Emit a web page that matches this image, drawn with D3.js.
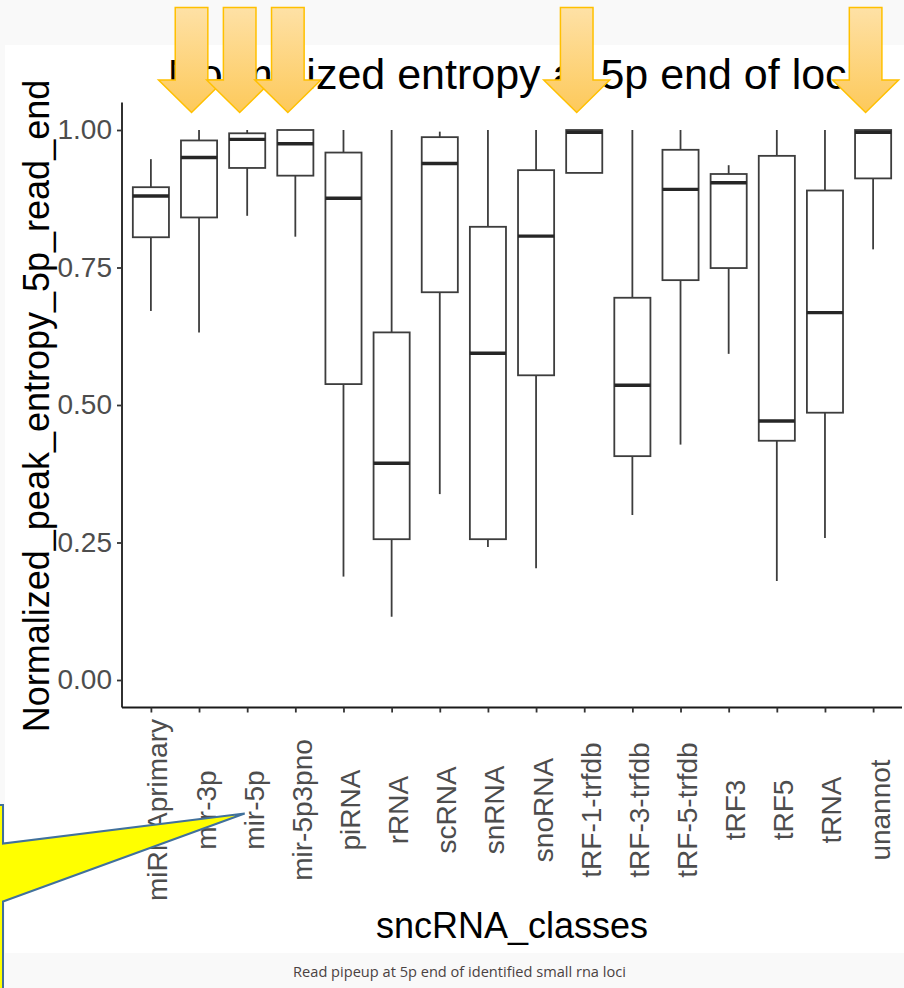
<!DOCTYPE html>
<html>
<head>
<meta charset="utf-8">
<script src="https://d3js.org/d3.v7.min.js"></script>
<style>
  html, body { margin: 0; padding: 0; background: #f9f9f9; }
  svg { display: block; }
</style>
</head>
<body>
<svg id="chart" width="904" height="988"></svg>
<script>
// sncRNA classes and five-number summaries of normalized peak entropy at the 5p read end
const categories = ["miRNAprimary", "mir-3p", "mir-5p", "mir-5p3pno", "piRNA", "rRNA", "scRNA", "snRNA",
  "snoRNA", "tRF-1-trfdb", "tRF-3-trfdb", "tRF-5-trfdb", "tRF3", "tRF5", "tRNA", "unannot"];
const whiskerLow  = [0.671, 0.632, 0.844, 0.806, 0.188, 0.115, 0.338, 0.242, 0.203, 0.922, 0.300, 0.428, 0.593, 0.180, 0.258, 0.783];
const q1          = [0.805, 0.841, 0.931, 0.917, 0.538, 0.256, 0.705, 0.256, 0.554, 0.922, 0.407, 0.727, 0.749, 0.435, 0.486, 0.912];
const median      = [0.880, 0.950, 0.983, 0.975, 0.876, 0.394, 0.939, 0.594, 0.807, 0.996, 0.536, 0.892, 0.904, 0.471, 0.668, 0.996];
const q3          = [0.896, 0.981, 0.994, 1.000, 0.959, 0.632, 0.987, 0.824, 0.927, 1.000, 0.695, 0.964, 0.920, 0.953, 0.890, 1.000];
const whiskerHigh = [0.947, 1.000, 1.000, 1.000, 1.000, 1.000, 0.997, 1.000, 1.000, 1.000, 1.000, 1.000, 0.936, 1.000, 1.000, 1.000];
const yTicks = [0, 0.25, 0.5, 0.75, 1];
const highlighted = ["mir-3p", "mir-5p", "mir-5p3pno", "tRF-1-trfdb", "unannot"];
const calloutTarget = "mir-5p";

const titleText = "Normalized entropy at 5p end of loci";
const xTitle = "sncRNA_classes";
const yTitle = "Normalized_peak_entropy_5p_read_end";
const caption = "Read pipeup at 5p end of identified small rna loci";

const rows = categories.map((c, i) => ({
  cls: c, lo: whiskerLow[i], q1: q1[i], med: median[i], q3: q3[i], hi: whiskerHigh[i]
}));

const W = 904, H = 988;
const panel = { left: 122, right: 902, top: 102.5, bottom: 707.5 };
const font = "'Liberation Sans', Arial, Helvetica, sans-serif";

const svg = d3.select("#chart");

// page / slide backdrop
svg.append("rect").attr("width", W).attr("height", H).attr("fill", "#f9f9f9");
svg.append("rect").attr("x", 5).attr("y", 45).attr("width", W - 5).attr("height", 908).attr("fill", "#ffffff");

const x = d3.scalePoint().domain(categories).range([panel.left, panel.right]).padding(0.6);
const y = d3.scaleLinear().domain([-0.05, 1.05]).range([panel.bottom, panel.top]);
const boxW = x.step() * 0.75;

// title
svg.append("text")
  .attr("x", (panel.left + panel.right) / 2).attr("y", 89)
  .attr("text-anchor", "middle")
  .attr("font-family", font).attr("font-size", 43).attr("fill", "#000")
  .text(titleText);

// boxes
const g = svg.append("g");
const boxes = g.selectAll("g.box").data(rows).join("g").attr("class", "box");
const lineCol = "#3d3d3d";

boxes.append("line")
  .attr("x1", d => x(d.cls)).attr("x2", d => x(d.cls))
  .attr("y1", d => y(d.q3)).attr("y2", d => y(d.hi))
  .attr("stroke", lineCol).attr("stroke-width", 1.8);
boxes.append("line")
  .attr("x1", d => x(d.cls)).attr("x2", d => x(d.cls))
  .attr("y1", d => y(d.q1)).attr("y2", d => y(d.lo))
  .attr("stroke", lineCol).attr("stroke-width", 1.8);
boxes.append("rect")
  .attr("x", d => x(d.cls) - boxW / 2).attr("width", boxW)
  .attr("y", d => y(d.q3)).attr("height", d => y(d.q1) - y(d.q3))
  .attr("fill", "#ffffff").attr("stroke", lineCol).attr("stroke-width", 1.8);
boxes.append("line")
  .attr("x1", d => x(d.cls) - boxW / 2).attr("x2", d => x(d.cls) + boxW / 2)
  .attr("y1", d => y(d.med)).attr("y2", d => y(d.med))
  .attr("stroke", "#262626").attr("stroke-width", 3.4);

// y axis
const yAxis = svg.append("g")
  .attr("transform", `translate(${panel.left},0)`)
  .call(d3.axisLeft(y).tickValues(yTicks).tickFormat(d3.format(".2f")).tickSize(5).tickPadding(5));
yAxis.select(".domain").attr("d", `M0,${panel.top}V${panel.bottom}`).attr("stroke", "#1a1a1a").attr("stroke-width", 1.8);
yAxis.selectAll(".tick line").attr("stroke", "#333").attr("stroke-width", 1.8);
yAxis.selectAll(".tick text").attr("font-family", font).attr("font-size", 28).attr("fill", "#4d4d4d");

// x axis
const xAxis = svg.append("g")
  .attr("transform", `translate(0,${panel.bottom})`)
  .call(d3.axisBottom(x).tickSize(5).tickFormat(""));
xAxis.select(".domain").attr("d", `M${panel.left},0H${panel.right}`).attr("stroke", "#1a1a1a").attr("stroke-width", 1.8);
xAxis.selectAll(".tick line").attr("stroke", "#333").attr("stroke-width", 1.8);

// rotated category labels, centred below the axis
svg.append("g").selectAll("text").data(categories).join("text")
  .attr("transform", d => `translate(${x(d) + 16.5},810) rotate(-90)`)
  .attr("text-anchor", "middle")
  .attr("font-family", font).attr("font-size", 28).attr("fill", "#4d4d4d")
  .text(d => d);

// axis titles
svg.append("text")
  .attr("x", (panel.left + panel.right) / 2).attr("y", 938)
  .attr("text-anchor", "middle")
  .attr("font-family", font).attr("font-size", 36).attr("fill", "#000")
  .text(xTitle);
svg.append("text")
  .attr("transform", `translate(49,406) rotate(-90)`)
  .attr("text-anchor", "middle")
  .attr("font-family", font).attr("font-size", 36).attr("fill", "#000")
  .text(yTitle);

// caption
svg.append("text")
  .attr("x", 459.5).attr("y", 977)
  .attr("text-anchor", "middle")
  .attr("font-family", "'Open Sans', 'Noto Sans', sans-serif").attr("font-size", 14.6)
  .attr("fill", "#4a4242")
  .text(caption);

// highlight arrows above selected classes
const defs = svg.append("defs");
const grad = defs.append("linearGradient").attr("id", "arrowFill")
  .attr("x1", 0).attr("y1", 0).attr("x2", 0).attr("y2", 1);
grad.append("stop").attr("offset", "0%").attr("stop-color", "#fee1a6");
grad.append("stop").attr("offset", "100%").attr("stop-color", "#fdc95a");

const shaftHalf = 16.3, headHalf = 33, topY = 7.5, neckY = 80, tipY = 112.5, arrowShift = -7.5;
function arrowPath(cx) {
  return `M${cx - shaftHalf},${topY}H${cx + shaftHalf}V${neckY}H${cx + headHalf}` +
    `L${cx},${tipY}L${cx - headHalf},${neckY}H${cx - shaftHalf}Z`;
}
svg.append("g").selectAll("path").data(highlighted).join("path")
  .attr("d", d => arrowPath(x(d) + arrowShift))
  .attr("fill", "url(#arrowFill)")
  .attr("stroke", "#ffc000").attr("stroke-width", 1.5).attr("stroke-linejoin", "miter");

// yellow callout pointing at one class label
const tipX = x(calloutTarget) - 2.5;
svg.append("path")
  .attr("d", `M-20,805H3V843.5L${tipX},813.5L3,901.5V1000H-20Z`)
  .attr("fill", "#ffff00").attr("stroke", "#41719c").attr("stroke-width", 2).attr("stroke-linejoin", "miter");
</script>
</body>
</html>
